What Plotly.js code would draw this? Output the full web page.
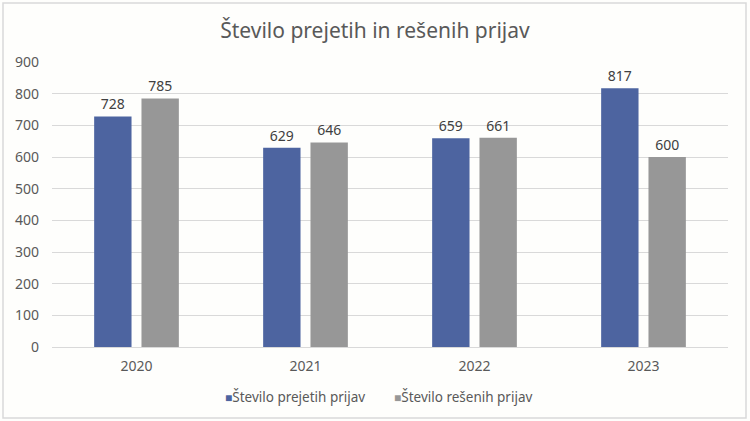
<!DOCTYPE html>
<html><head><meta charset="utf-8">
<script src="https://cdn.plot.ly/plotly-3.0.1.min.js"></script>
<style>body{margin:0;background:#fff}#c{width:750px;height:421px}</style>
</head><body><div id="c"></div>
<script>
const years = ['2020', '2021', '2022', '2023'];
const received = [728, 629, 659, 817];
const resolved = [785, 646, 661, 600];
const seriesNames = ['Število prejetih prijav', 'Število rešenih prijav'];
const seriesColors = ['#4d64a0', '#979797'];
const titleText = 'Število prejetih in rešenih prijav';

const font = 'Noto Sans, Open Sans, sans-serif';
const traces = [
  {type:'bar', x: years, y: received, name: seriesNames[0], marker:{color:seriesColors[0]},
   text: received.map(String), textposition:'outside', cliponaxis:false, showlegend:false,
   textfont:{size:14, color:'#404040', family:font}},
  {type:'bar', x: years, y: resolved, name: seriesNames[1], marker:{color:seriesColors[1]},
   text: resolved.map(String), textposition:'outside', cliponaxis:false, showlegend:false,
   textfont:{size:14, color:'#404040', family:font}}
];
const legendX = [223, 392].map(px => (px - 52) / 676);
const legendAnn = seriesNames.map((n, i) => ({
  xref:'paper', yref:'paper', x: legendX[i], y:(347-397)/285, xanchor:'left', yanchor:'middle',
  showarrow:false, align:'left',
  text:'<span style="color:' + seriesColors[i] + ';font-size:12px">■</span>' + n,
  font:{size:13.5, color:'#595959', family:font}
}));
const layout = {
  width:750, height:421,
  margin:{l:52, r:22, t:62, b:74, autoexpand:false},
  paper_bgcolor:'#fefefc', plot_bgcolor:'#fefefc',
  font:{family:font, color:'#595959', size:14},
  title:{text:titleText, x:0.5, xanchor:'center', y:1-31/421, yanchor:'middle',
         font:{size:21, color:'#595959', family:font}},
  barmode:'group', bargap:0.44, bargroupgap:0.21,
  xaxis:{type:'category', showline:true, linecolor:'#d9d9d9', linewidth:1, ticks:'',
         tickfont:{size:14, color:'#595959'}, showgrid:false, zeroline:false, ticklabelstandoff:6},
  yaxis:{range:[0,900], dtick:100, tick0:0, showgrid:true, gridcolor:'#d9d9d9', gridwidth:1,
         zeroline:false, showline:false, ticks:'', tickfont:{size:14, color:'#595959'}, ticklabelstandoff:12},
  showlegend:false,
  annotations: legendAnn,
  shapes:[{type:'rect', xref:'paper', yref:'paper',
           x0:(3-52)/676, x1:(746-52)/676, y0:(347-418)/285, y1:(347-3)/285,
           line:{color:'#d9d9d9', width:1.5}, fillcolor:'rgba(0,0,0,0)', layer:'below'}]
};
Plotly.newPlot('c', traces, layout, {displayModeBar:false, staticPlot:true});
</script></body></html>
